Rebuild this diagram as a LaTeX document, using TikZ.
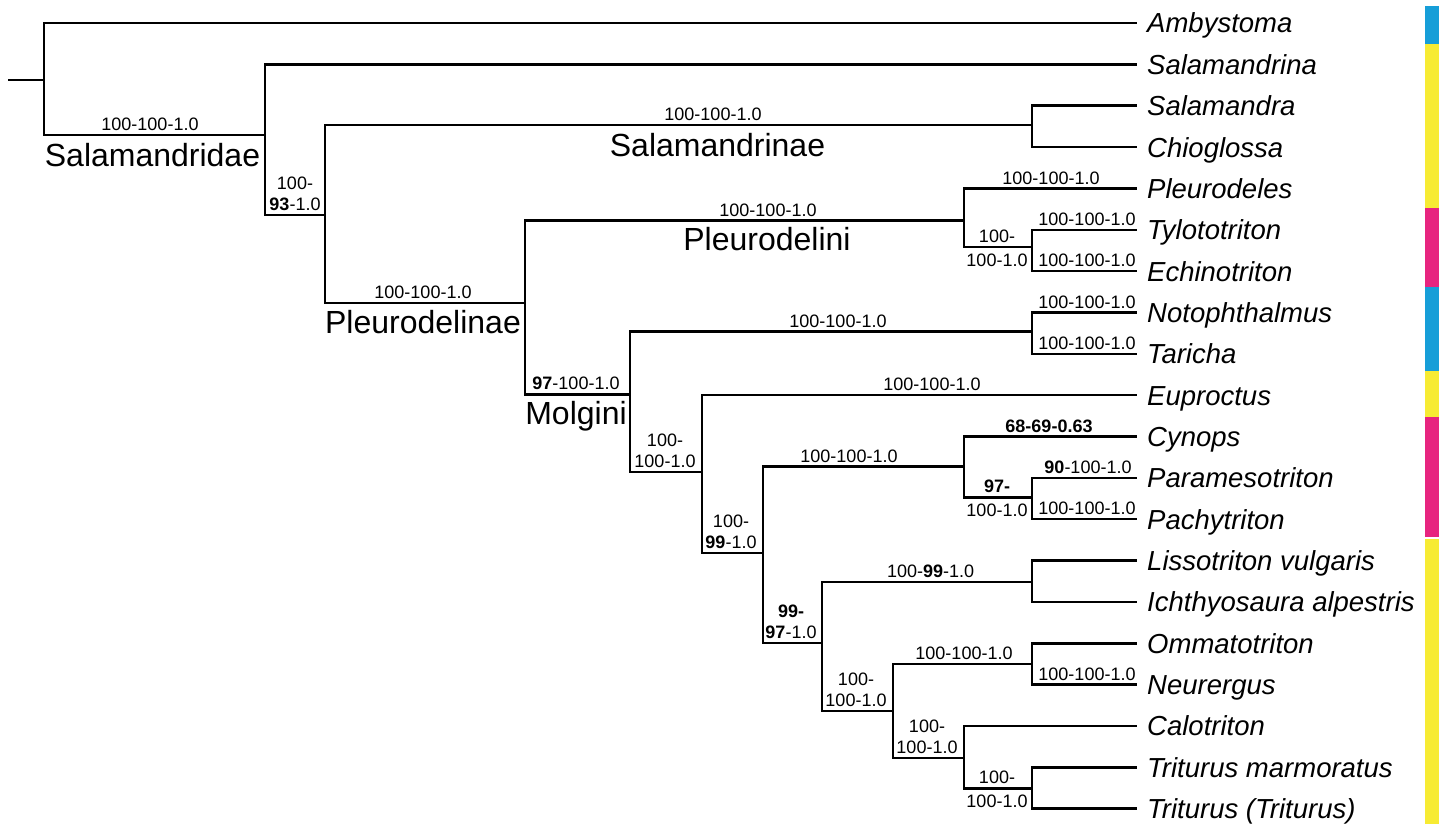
\documentclass[tikz,border=0pt]{standalone}
\usepackage{fontspec}
\setmainfont{Liberation Sans}
\usepackage{tikz}
\usetikzlibrary{positioning}
\definecolor{barblue}{RGB}{22,158,216}
\definecolor{baryellow}{RGB}{247,235,51}
\definecolor{barpink}{RGB}{231,36,127}

\begin{document}
\begin{tikzpicture}[
  x=1pt, y=-1pt,
  br/.style={draw=black, line width=2.5pt},
  taxon/.style={font=\fontsize{27.5}{30}\selectfont\itshape, inner sep=0pt,
                text height=20pt, text depth=0pt},
  bs/.style={font=\fontsize{18}{21}\selectfont, inner sep=0pt, align=center,
             anchor=south},
  bsb/.style={bs, anchor=north},
  clade/.style={font=\fontsize{32}{36}\selectfont, inner sep=0pt, anchor=base},
]
\useasboundingbox (0,0) rectangle (1440,824);

% ---- tips ----
\foreach \i/\name in {0/Ambystoma, 1/Salamandrina, 2/Salamandra, 3/Chioglossa,
    4/Pleurodeles, 5/Tylototriton, 6/Echinotriton, 7/Notophthalmus, 8/Taricha,
    9/Euproctus, 10/Cynops, 11/Paramesotriton, 12/Pachytriton,
    13/Lissotriton vulgaris, 14/Ichthyosaura alpestris, 15/Ommatotriton,
    16/Neurergus, 17/Calotriton, 18/Triturus marmoratus, 19/Triturus (Triturus)}
{
  \coordinate (t\i) at (1137,{23+41.35*\i});
  \node[taxon, right=10pt of t\i] (tx\i) {\name};
}

% ---- internal nodes ----
\coordinate (root) at (8,80);
\coordinate (n0)   at (44,80);
\coordinate (nFam) at (265,135);
\coordinate (nB)   at (325,215);
\coordinate (nSal) at (1032,125);
\coordinate (nPle) at (525,303);
\coordinate (nPli) at (964,220.5);
\coordinate (nTE)  at (1032,247);
\coordinate (nMol) at (630,394.3);
\coordinate (nNT)  at (1032,331.7);
\coordinate (nA)   at (702,472);
\coordinate (nB2)  at (763,553);
\coordinate (nCy)  at (964,466.7);
\coordinate (nPP)  at (1032,497.3);
\coordinate (nC)   at (822,643);
\coordinate (nLI)  at (1032,582);
\coordinate (nD)   at (893,711);
\coordinate (nON)  at (1032,664);
\coordinate (nE)   at (964,758);
\coordinate (nTr)  at (1032,788.3);

\draw[br] (root) -- (n0);
\foreach \p/\c in {n0/t0, n0/nFam, nFam/t1, nFam/nB, nB/nSal, nB/nPle,
    nSal/t2, nSal/t3, nPle/nPli, nPle/nMol, nPli/t4, nPli/nTE, nTE/t5, nTE/t6,
    nMol/nNT, nMol/nA, nNT/t7, nNT/t8, nA/t9, nA/nB2, nB2/nCy, nB2/nC,
    nCy/t10, nCy/nPP, nPP/t11, nPP/t12, nC/nLI, nC/nD, nLI/t13, nLI/t14,
    nD/nON, nD/nE, nON/t15, nON/t16, nE/t17, nE/nTr, nTr/t18, nTr/t19}
  \draw[br] (\p) |- (\c);

% ---- support values ----
\node[bs] (s1)  at (150,131)   {100-100-1.0};
\node[bs] (s2)  at (295,211)   {100-\\\textbf{93}-1.0};
\node[bs] (s3)  at (713,121)   {100-100-1.0};
\node[bs] (s4)  at (423,299)   {100-100-1.0};
\node[bs] (s5)  at (768,216.5) {100-100-1.0};
\node[bs] (s6)  at (1051,184.4) {100-100-1.0};
\node[bs] (s7)  at (997,243.3) {100-};
\node[bsb] (s7b) at (997,253.3) {100-1.0};
\node[bs] (s8)  at (1087,225.8) {100-100-1.0};
\node[bs] (s9)  at (1087,267.1) {100-100-1.0};
\node[bs] (s10) at (576,390.3) {\textbf{97}-100-1.0};
\node[bs] (s11) at (838,327.7) {100-100-1.0};
\node[bs] (s12) at (1087,308.5) {100-100-1.0};
\node[bs] (s13) at (1087,349.8) {100-100-1.0};
\node[bs] (s14) at (665,468)   {100-\\100-1.0};
\node[bs] (s15) at (932,391.2) {100-100-1.0};
\node[bs] (s16) at (731,549)   {100-\\\textbf{99}-1.0};
\node[bs] (s17) at (849,462.7) {100-100-1.0};
\node[bs] (s18) at (1049,432.5) {\textbf{68-69-0.63}};
\node[bs] (s19) at (997,493.3) {\textbf{97-}};
\node[bsb] (s19b) at (997,503.3) {100-1.0};
\node[bs] (s20) at (1088,473.9) {\textbf{90}-100-1.0};
\node[bs] (s21) at (1087,515.2) {100-100-1.0};
\node[bs] (s22) at (791,639)   {\textbf{99-}\\\textbf{97}-1.0};
\node[bs] (s23) at (930.6,578) {100-\textbf{99}-1.0};
\node[bs] (s24) at (856,707)   {100-\\100-1.0};
\node[bs] (s25) at (964,660)   {100-100-1.0};
\node[bs] (s26) at (1087,680.6) {100-100-1.0};
\node[bs] (s27) at (927,754)   {100-\\100-1.0};
\node[bs] (s28) at (997,784.3) {100-};
\node[bsb] (s28b) at (997,794.3) {100-1.0};

% ---- clade names ----
\node[clade] (cFam) at (152.5,166)  {Salamandridae};
\node[clade] (cSal) at (717.5,157)  {Salamandrinae};
\node[clade] (cPli) at (767,250)    {Pleurodelini};
\node[clade] (cPle) at (423,333.3)  {Pleurodelinae};
\node[clade] (cMol) at (576,424)    {Molgini};

% ---- colour bar ----
\foreach \ya/\yb/\col in {6/44/barblue, 44/208/baryellow, 208/287/barpink,
    287/371/barblue, 371/417/baryellow, 417/537/barpink, 539/824/baryellow}
  \fill[\col] (1425,\ya) rectangle (1439,\yb);

\end{tikzpicture}
\end{document}
